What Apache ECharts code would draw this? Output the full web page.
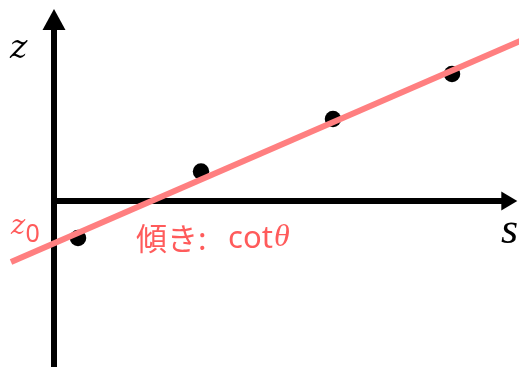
<!DOCTYPE html>
<html>
<head>
<meta charset="utf-8">
<script src="https://cdn.jsdelivr.net/npm/echarts@6/dist/echarts.min.js"></script>
<style>
  html, body { margin: 0; padding: 0; background: #ffffff; }
  #chart { width: 519px; height: 367px; }
</style>
</head>
<body>
<div id="chart"></div>
<script>
// Measured points (s, z)
const sValues = [0.24, 1.47, 2.79, 3.98];
const zValues = [-0.37, 0.295, 0.82, 1.27];

// Fitted line: z = z0 + cot(theta) * s
const intercept = -0.424;
const slope = 0.434;
const lineSpan = [-0.43, 4.7];

// Drawn axis extents (arrows at the positive ends)
const sAxisRange = [0, 4.553];
const zAxisRange = [-1.66, 1.815];

// Full plotting area extents
const sViewRange = [-0.54, 4.65];
const zViewRange = [-1.66, 2.01];

const points = sValues.map((s, i) => [s, zValues[i]]);
const fitLine = lineSpan.map(s => [s, intercept + slope * s]);

const RED_LINE = '#ff7f80';
const RED_TEXT = '#ff5b5b';

const hiddenAxis = (range, idx) => ({
  type: 'value', gridIndex: idx, min: range[0], max: range[1], show: false
});

const arrowAxis = (range, size) => ({
  type: 'value',
  gridIndex: 0,
  min: range[0],
  max: range[1],
  axisLine: {
    show: true,
    onZero: true,
    symbol: ['none', 'triangle'],
    symbolSize: size,
    lineStyle: { color: '#000000', width: 6 }
  },
  axisTick: { show: false },
  axisLabel: { show: false },
  splitLine: { show: false }
});

const chart = echarts.init(document.getElementById('chart'), null, { renderer: 'canvas' });

chart.setOption({
  animation: false,
  backgroundColor: '#ffffff',
  grid: [
    { left: 54, right: 9.7, top: 19.5, bottom: 0, containLabel: false },
    { left: 0, right: 0, top: 0, bottom: 0, containLabel: false }
  ],
  xAxis: [arrowAxis(sAxisRange, [19, 16]), hiddenAxis(sViewRange, 1)],
  yAxis: [arrowAxis(zAxisRange, [23, 21]), hiddenAxis(zViewRange, 1)],
  series: [
    {
      type: 'scatter',
      xAxisIndex: 1,
      yAxisIndex: 1,
      data: points,
      symbol: 'circle',
      symbolSize: 16.5,
      itemStyle: { color: '#000000', opacity: 1 },
      z: 2
    },
    {
      type: 'line',
      xAxisIndex: 1,
      yAxisIndex: 1,
      data: fitLine,
      showSymbol: false,
      symbol: 'none',
      clip: false,
      lineStyle: { color: RED_LINE, width: 6, cap: 'butt' },
      z: 3
    }
  ],
  graphic: [
    {
      type: 'text', x: 10, y: 49,
      style: { text: 'z', font: 'italic 33px "DejaVu Serif"', fill: '#000000', align: 'left', verticalAlign: 'middle' }
    },
    {
      type: 'text', x: 501, y: 231,
      style: { text: 's', font: 'italic 44px "Liberation Serif"', fill: '#000000', align: 'left', verticalAlign: 'middle' }
    },
    {
      type: 'text', x: 11, y: 227,
      style: { text: 'z', font: 'italic 27px "DejaVu Serif"', fill: RED_TEXT, align: 'left', verticalAlign: 'middle' }
    },
    {
      type: 'text', x: 25.5, y: 235,
      style: { text: '0', font: '25px "Noto Sans"', fill: RED_TEXT, align: 'left', verticalAlign: 'middle' }
    },
    {
      type: 'text', x: 136, y: 238,
      style: { text: '傾き:', font: '31px "Noto Sans CJK JP"', fill: RED_TEXT, align: 'left', verticalAlign: 'middle' }
    },
    {
      type: 'text', x: 228, y: 239,
      style: { text: 'cot', font: '31px "Noto Sans"', fill: RED_TEXT, align: 'left', verticalAlign: 'middle' }
    },
    {
      type: 'text', x: 274, y: 238,
      style: { text: 'θ', font: 'italic 32px "Liberation Serif"', fill: RED_TEXT, align: 'left', verticalAlign: 'middle' }
    }
  ]
});
</script>
</body>
</html>
